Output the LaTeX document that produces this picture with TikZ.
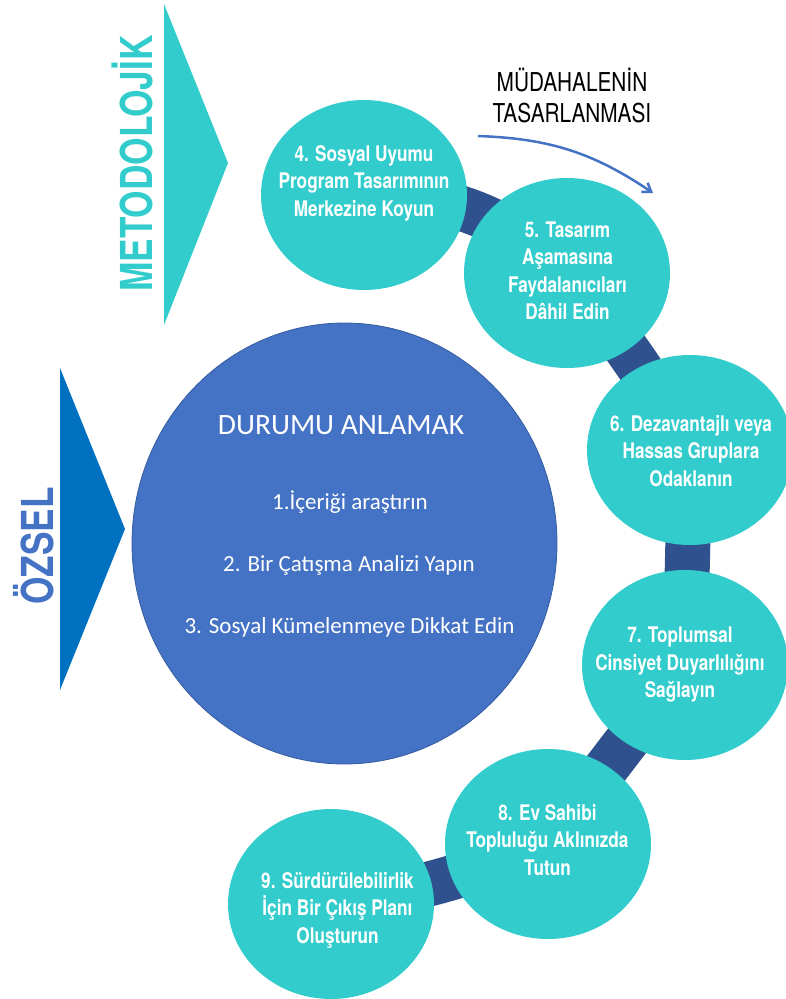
\documentclass[tikz,border=0pt]{standalone}
\usepackage{fontspec}
\usetikzlibrary{shapes.geometric,arrows.meta,backgrounds}
\newfontfamily\narrowf[FakeStretch=0.8]{TeX Gyre Heros}
\newfontfamily\calib{Carlito}
\definecolor{tealc}{RGB}{51,204,204}
\definecolor{bluec}{RGB}{68,114,196}
\definecolor{bandc}{RGB}{47,82,143}
\definecolor{tric}{RGB}{0,112,192}
\tikzset{
  stepc/.style={ellipse, fill=tealc, minimum width=206pt, minimum height=190pt, inner sep=0pt},
  ctext/.style={text=white, align=center, inner sep=0pt, font=\narrowf\bfseries\fontsize{21.5}{27.5}\selectfont},
  btext/.style={text=white, inner sep=0pt, font=\calib\fontsize{23}{28}\selectfont},
  bandline/.style={draw=bandc, line width=45pt},
  sidelabel/.style={rotate=90, anchor=base, inner sep=0pt, font=\narrowf\bfseries\fontsize{44}{44}\selectfont},
}
\begin{document}
\begin{tikzpicture}[x=1pt,y=1pt]
\useasboundingbox (0,0) rectangle (786,-999);
\clip (0,0) rectangle (786,-999);
% triangles
\fill[tealc] (164,-4) -- (164,-325) -- (228,-163) -- cycle;
\fill[tric] (60,-368) -- (60,-690) -- (125,-529) -- cycle;
\node[sidelabel, text=tealc] (met) at (152,-163.5) {METODOLOJİK};
\node[sidelabel, text=bluec] (ozs) at (53,-546) {ÖZSEL};
% big circle
\node[ellipse, fill=bluec, draw=bandc!70!bluec, line width=0.8pt, minimum width=425pt, minimum height=441pt, inner sep=0pt] (big) at (344.5,-543.5) {};
\node[text=white, inner sep=0pt, font=\calib\fontsize{29.5}{34}\selectfont] (t0) at (341,-425) {DURUMU ANLAMAK};
\node[btext] (t1) at (350,-502) {1.İçeriği araştırın};
\node[btext] (t2) at (349,-565) {2. Bir Çatışma Analizi Yapın};
\node[btext] (t3) at (349.5,-627) {3. Sosyal Kümelenmeye Dikkat Edin};
% step circles
\node[stepc] (c4) at (364,-195) {};
\node[stepc] (c5) at (567,-273) {};
\node[stepc] (c6) at (690,-450) {};
\node[stepc] (c7) at (685,-665) {};
\node[stepc] (c8) at (548,-844) {};
\node[stepc] (c9) at (331,-904) {};
\begin{scope}[on background layer]
\draw[bandline] (c4.center) to[bend left=21] (c5.center) to[bend left=5] (c6.center) -- (c7.center) -- (c8.center) to[bend left=6] (c9.center);
\end{scope}
\node[ctext] (t4) at (364,-183) {4. Sosyal Uyumu\\Program Tasarımının\\Merkezine Koyun};
\node[ctext] (t5) at (567.5,-271) {5. Tasarım\\Aşamasına\\Faydalanıcıları\\Dâhil Edin};
\node[ctext] (t6) at (691,-451) {6. Dezavantajlı veya\\Hassas Gruplara\\Odaklanın};
\node[ctext] (t7) at (680,-665) {7. Toplumsal\\Cinsiyet Duyarlılığını\\Sağlayın};
\node[ctext] (t8) at (547.5,-840) {8. Ev Sahibi\\Topluluğu Aklınızda\\Tutun};
\node[ctext] (t9) at (337.5,-910) {9. Sürdürülebilirlik\\İçin Bir Çıkış Planı\\Oluşturun};
% heading and arrow
\node[align=center, inner sep=0pt, font=\narrowf\fontsize{26}{31}\selectfont] (head) at (572,-95.5) {MÜDAHALENİN\\TASARLANMASI};
\coordinate (a1) at (478,-136);
\coordinate (a2) at (653,-193);
\draw[bluec, line width=2.5pt, -{Straight Barb[length=8pt,width=11pt]}] (a1) to[bend left=16] (a2);
\end{tikzpicture}
\end{document}
